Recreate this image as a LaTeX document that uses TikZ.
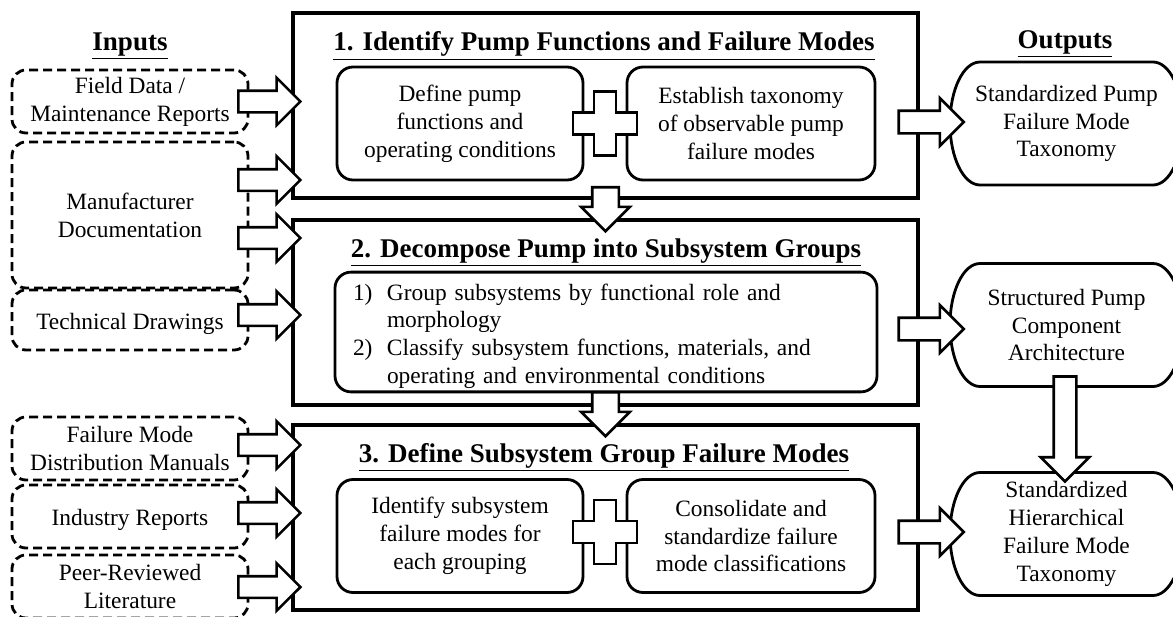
\documentclass[tikz,border=0pt]{standalone}
\usepackage{fontspec}
\setmainfont{Liberation Serif}
\usetikzlibrary{shapes.arrows,calc}

\begin{document}
\begin{tikzpicture}[x=0.5pt,y=-0.5pt,font=\fontsize{11.7pt}{13.9pt}\selectfont]
  \tikzstyle{stage}=[draw,line width=1.7pt,minimum width=312.5pt,minimum height=92.5pt,inner sep=0pt]
  \tikzstyle{task}=[draw,line width=1.4pt,rounded corners=8pt,minimum width=123pt,minimum height=56.5pt,align=center,inner sep=0pt,execute at begin node={\rule{0pt}{12pt}}]
  \tikzstyle{source}=[draw,dash pattern=on 4.5pt off 2.5pt,line width=1.4pt,rounded corners=7pt,minimum width=118pt,align=center,inner sep=0pt,execute at begin node={\rule{0pt}{12pt}}]
  \tikzstyle{result}=[minimum width=116.5pt,minimum height=61.5pt,align=center,inner sep=0pt,outer sep=0pt,execute at begin node={\rule{0pt}{12pt}}]
  \tikzstyle{heading}=[font=\fontsize{13.5pt}{16pt}\selectfont\bfseries,anchor=base]
  \tikzstyle{fat}=[single arrow,draw,fill=white,line width=1.3pt,single arrow head extend=6.5pt,inner sep=4.75pt,outer sep=0pt,anchor=tail]
  \tikzstyle{crossmark}=[draw,fill=white,line width=1.3pt]
  \useasboundingbox (0,0) rectangle (1173,616);

  \node[heading] (hin) at (130,50) {\underline{Inputs}};
  \node[heading] (hout) at (1065,48) {\underline{Outputs}};

  % the three steps
  \node[stage] (s1) at (605.5,105.5) {};
  \node[stage] (s2) at (605.5,312.5) {};
  \node[stage] (s3) at (605.5,517.5) {};
  \node[heading] (t1) at (604,50.5) {\underline{1. Identify Pump Functions and Failure Modes}};
  \node[heading] (t2) at (606,257) {\underline{2. Decompose Pump into Subsystem Groups}};
  \node[heading] (t3) at (604,462) {\underline{3. Define Subsystem Group Failure Modes}};

  \node[task] (a1) at (460,123.5) {Define pump\\functions and\\operating conditions};
  \node[task,minimum width=124pt] (b1) at (751,123.5) {Establish taxonomy\\of observable pump\\failure modes};
  \node[task,minimum width=271pt,minimum height=55pt,text width=253pt,align=left] (c2) at (606,332)
    {\rule{0pt}{14pt}\begin{tabular}[t]{@{}p{17pt}@{}l@{}}
      1) & Group subsystems by functional role and\\
         & morphology\\
      2) & Classify subsystem functions, materials, and\\
         & operating and environmental conditions
     \end{tabular}};
  \node[task] (a3) at (460,536) {Identify subsystem\\failure modes for\\each grouping};
  \node[task,minimum width=124pt] (b3) at (751,536) {Consolidate and\\standardize failure\\mode classifications};

  \foreach \l/\r/\dy in {a1/b1/0,a3/b3/-4}
    \draw[crossmark] ($(\l.east)!0.5!(\r.west)+(0,\dy)$) ++(-11,-32) -- ++(22,0) -- ++(0,21) -- ++(21,0)
      -- ++(0,22) -- ++(-21,0) -- ++(0,21) -- ++(-22,0) -- ++(0,-21) -- ++(-21,0) -- ++(0,-22) -- ++(21,0) -- cycle;

  % inputs
  \node[source,minimum height=31.5pt] (in1) at (130,101.5) {Field Data /\\Maintenance Reports};
  \node[source,minimum height=73pt] (in2) at (130,215) {Manufacturer\\Documentation};
  \node[source,minimum height=30pt] (in3) at (130,320) {Technical Drawings};
  \node[source,minimum height=31.5pt] (in4) at (130,448.5) {Failure Mode\\Distribution Manuals};
  \node[source,minimum height=31.5pt] (in5) at (130,516.5) {Industry Reports};
  \node[source,minimum height=31.5pt] (in6) at (130,586.5) {Peer-Reviewed\\Literature};

  % outputs
  \node[result] (o1) at (1066.5,123.5) {Standardized Pump\\Failure Mode\\Taxonomy};
  \node[result] (o2) at (1066.5,325) {Structured Pump\\Component\\Architecture};
  \node[result] (o3) at (1066.5,534) {Standardized\\Hierarchical\\Failure Mode\\Taxonomy};
  \foreach \o in {o1,o2,o3}
    \draw[line width=1.4pt] ([xshift=15pt]\o.north west) -- ([xshift=-15pt]\o.north east)
      arc[start angle=90,end angle=-90,x radius=15pt,y radius=30.75pt] -- ([xshift=15pt]\o.south west)
      arc[start angle=270,end angle=90,x radius=15pt,y radius=30.75pt] -- cycle;

  % block arrows
  \foreach \n/\dy in {in1/0,in2/-35,in2/23,in3/-5,in4/-3.5,in5/-3.5,in6/0.5}
    \path ($(\n.east)+(-11,\dy)$) node[fat,minimum height=31pt] {};
  \foreach \a/\dy in {s1/-12.5,s2/-14.5}
    \path ($(\a.south)+(0,\dy)$) node[fat,shape border rotate=270,inner sep=6pt,minimum height=22pt,single arrow head extend=5.5pt] {};
  \foreach \a/\b/\dy in {s1/o1/-1.5,s2/o2/4,s3/o3/-2}
    \path ($(\a.east |- \b.west)+(-21,\dy)$) node[fat,minimum height=32.5pt,inner sep=5pt,single arrow head extend=6.25pt] {};
  \path ($(o2.south)+(-1.5,-10)$) node[fat,shape border rotate=270,inner sep=5pt,minimum height=52.5pt] {};
\end{tikzpicture}
\end{document}
